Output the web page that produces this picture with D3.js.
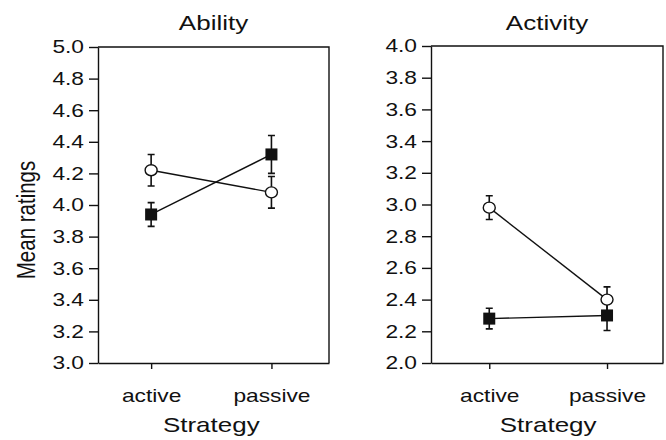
<!DOCTYPE html>
<html>
<head>
<meta charset="utf-8">
<script src="https://cdn.jsdelivr.net/npm/d3@7"></script>
<style>
  html, body { margin: 0; padding: 0; background: #fff; }
  svg { display: block; font-family: "Liberation Sans", Arial, Helvetica, sans-serif; }
</style>
</head>
<body>
<svg id="chart" width="666" height="440"></svg>
<script>
// Strategy conditions on the x axis
const categories = ["active", "passive"];

// Ability ratings: means and error half-widths
const abilityFilled = [3.94, 4.32];
const abilityFilledErr = [0.075, 0.12];
const abilityOpen = [4.22, 4.08];
const abilityOpenErr = [0.10, 0.10];
const abilityTicks = [3.0, 3.2, 3.4, 3.6, 3.8, 4.0, 4.2, 4.4, 4.6, 4.8, 5.0];

// Activity ratings: means and error half-widths
const activityFilled = [2.28, 2.30];
const activityFilledErr = [0.065, 0.095];
const activityOpen = [2.98, 2.40];
const activityOpenErr = [0.075, 0.08];
const activityTicks = [2.0, 2.2, 2.4, 2.6, 2.8, 3.0, 3.2, 3.4, 3.6, 3.8, 4.0];

const STRETCH = 1.3;   // text is drawn horizontally widened
const INK = "#111";

const svg = d3.select("#chart");

const panels = [
  { title: "Ability", ticks: abilityTicks, domain: [3, 5],
    filled: abilityFilled, filledErr: abilityFilledErr,
    open: abilityOpen, openErr: abilityOpenErr,
    x0: 98, x1: 329, y0: 47, y1: 363, pad: 0.46, align: 0.48, yLabel: "Mean ratings" },
  { title: "Activity", ticks: activityTicks, domain: [2, 4],
    filled: activityFilled, filledErr: activityFilledErr,
    open: activityOpen, openErr: activityOpenErr,
    x0: 431, x1: 663, y0: 46, y1: 363, pad: 0.485, align: 0.51, yLabel: null }
];

function widen(sel, x, y) {
  sel.attr("x", 0).attr("y", 0)
     .attr("transform", `translate(${x},${y}) scale(${STRETCH},1)`);
}

panels.forEach(p => {
  const x = d3.scalePoint().domain(categories).range([p.x0, p.x1]).padding(p.pad).align(p.align);
  const y = d3.scaleLinear().domain(p.domain).range([p.y1, p.y0]);
  const g = svg.append("g");

  // frame: top and right edges
  g.append("path")
    .attr("d", `M${p.x0},${p.y0}H${p.x1}V${p.y1}`)
    .attr("fill", "none").attr("stroke", INK).attr("stroke-width", 1.4);

  // y axis
  const ya = g.append("g")
    .attr("transform", `translate(${p.x0},0)`)
    .call(d3.axisLeft(y).tickValues(p.ticks).tickFormat(d3.format(".1f")).tickSize(9).tickSizeOuter(0));
  ya.select(".domain").attr("stroke", INK).attr("stroke-width", 1.4);
  ya.selectAll(".tick line").attr("stroke", INK).attr("stroke-width", 1.4);
  ya.selectAll(".tick text")
    .attr("fill", INK).attr("font-size", 17.5)
    .attr("x", -14 / STRETCH).attr("dy", "0.34em")
    .attr("transform", `scale(${STRETCH},1)`);

  // x axis
  const xa = g.append("g")
    .attr("transform", `translate(0,${p.y1})`)
    .call(d3.axisBottom(x).tickSize(6).tickSizeOuter(0));
  xa.select(".domain").attr("stroke", INK).attr("stroke-width", 1.4);
  xa.selectAll(".tick line").attr("stroke", INK).attr("stroke-width", 1.4);
  xa.selectAll(".tick text")
    .attr("fill", INK).attr("font-size", 17.5)
    .attr("x", 0).attr("y", 39).attr("dy", 0)
    .attr("transform", `scale(${STRETCH},1)`);

  // title
  g.append("text").text(p.title)
    .attr("text-anchor", "middle").attr("font-size", 20).attr("fill", INK)
    .call(widen, (p.x0 + p.x1) / 2, 30);

  // x axis title
  const mid = (x(categories[0]) + x(categories[1])) / 2;
  g.append("text").text("Strategy")
    .attr("text-anchor", "middle").attr("font-size", 20).attr("fill", INK)
    .call(widen, mid, 432);

  // y axis title
  if (p.yLabel) {
    g.append("text").text(p.yLabel)
      .attr("text-anchor", "middle").attr("font-size", 20.5).attr("fill", INK)
      .attr("transform", `translate(35,220) scale(${STRETCH},1) rotate(-90)`);
  }

  const series = [
    { vals: p.filled, errs: p.filledErr, kind: "square" },
    { vals: p.open, errs: p.openErr, kind: "circle" }
  ];

  const line = d3.line().x((d, i) => x(categories[i])).y(d => y(d));

  // connecting lines
  series.forEach(s => {
    g.append("path").datum(s.vals).attr("d", line)
      .attr("fill", "none").attr("stroke", INK).attr("stroke-width", 1.4);
  });

  // error bars
  series.forEach(s => {
    s.vals.forEach((v, i) => {
      const cx = x(categories[i]);
      const top = y(v + s.errs[i]), bot = y(v - s.errs[i]);
      g.append("path")
        .attr("d", `M${cx},${top}V${bot}M${cx - 3.5},${top}H${cx + 3.5}M${cx - 3.5},${bot}H${cx + 3.5}`)
        .attr("fill", "none").attr("stroke", INK).attr("stroke-width", 1.6);
    });
  });

  // markers
  series.forEach(s => {
    s.vals.forEach((v, i) => {
      const cx = x(categories[i]), cy = y(v);
      if (s.kind === "square") {
        g.append("rect")
          .attr("x", cx - 6).attr("y", cy - 6).attr("width", 12).attr("height", 12)
          .attr("fill", INK);
      } else {
        g.append("ellipse")
          .attr("cx", cx).attr("cy", cy).attr("rx", 6).attr("ry", 5.5)
          .attr("fill", "#fff").attr("stroke", INK).attr("stroke-width", 1.4);
      }
    });
  });
});
</script>
</body>
</html>
